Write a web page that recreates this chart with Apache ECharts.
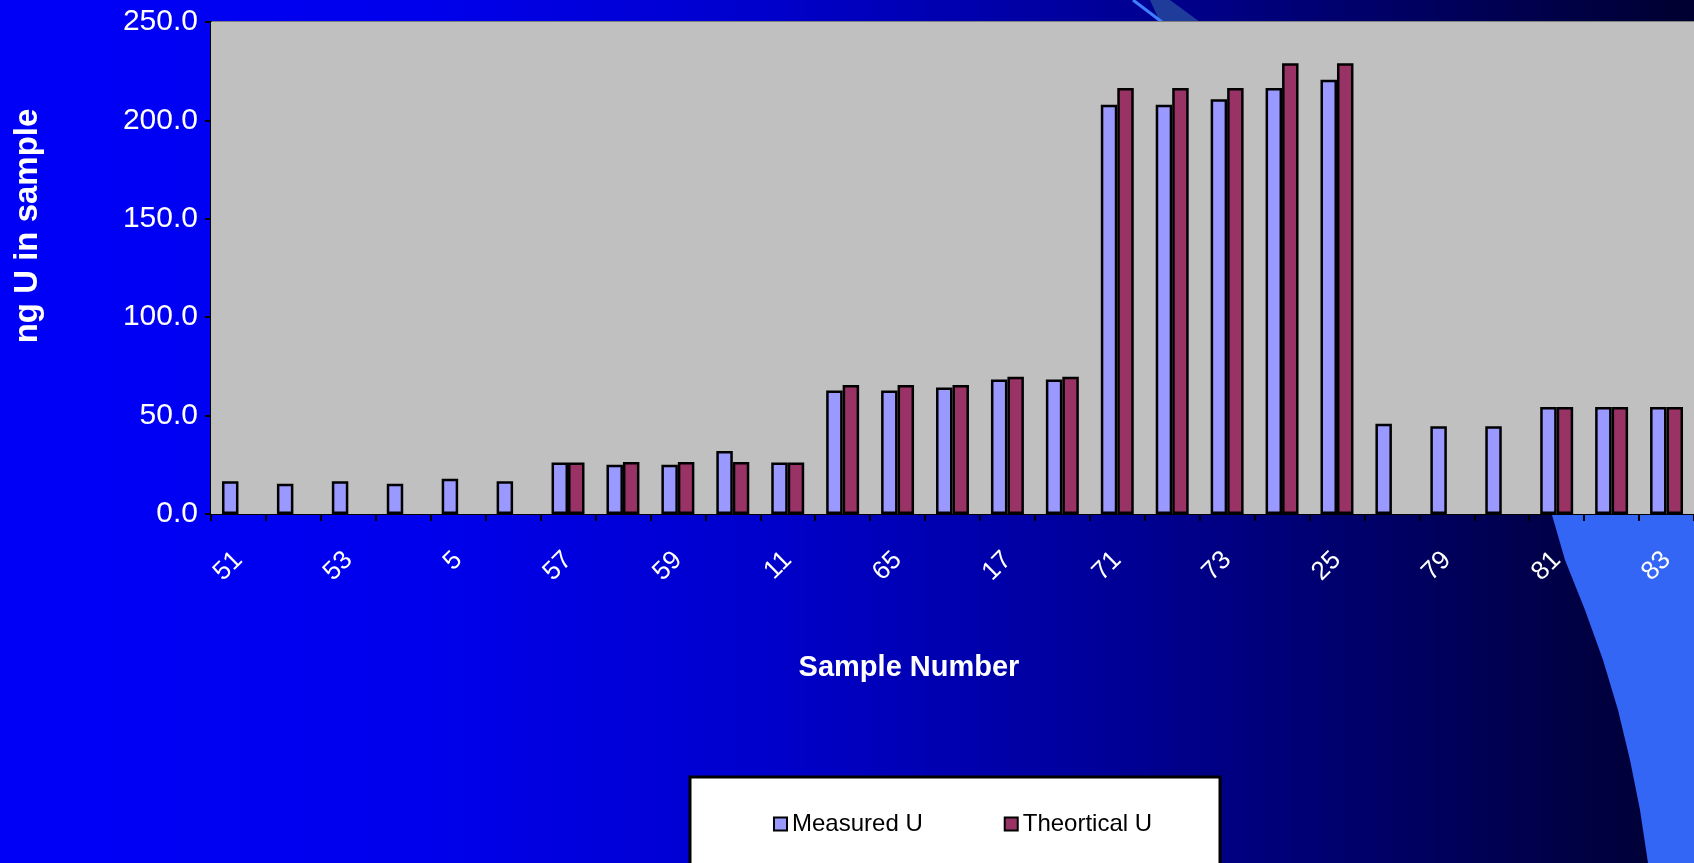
<!DOCTYPE html>
<html>
<head>
<meta charset="utf-8">
<title>ng U in sample</title>
<script src="https://cdn.jsdelivr.net/npm/echarts@6/dist/echarts.min.js"></script>
<style>
  html, body { margin: 0; padding: 0; overflow: hidden; }
  #chart { width: 1694px; height: 863px; }
</style>
</head>
<body>
<div id="chart"></div>
<script>
// sample numbers (only every other one is labelled on the axis)
const samples = ['51', '52', '53', '54', '5', '6', '57', '58', '59', '60', '11', '12', '65', '66',
  '17', '18', '71', '72', '73', '74', '25', '26', '79', '80', '81', '82', '83'];

// ng U measured in each sample
const measuredU = [16.6, 15.4, 16.6, 15.4, 17.9, 16.6, 26.2, 25.0, 25.0, 32.0, 26.2, 62.7, 62.7, 64.3,
  68.4, 68.4, 208.0, 208.0, 210.8, 216.4, 220.7, 45.9, 44.6, 44.6, 54.4, 54.4, 54.4];

// theoretical ng U (no value for some samples)
const theoreticalU = [null, null, null, null, null, null, 26.2, 26.4, 26.4, 26.4, 26.2, 65.5, 65.5, 65.5,
  69.7, 69.7, 216.4, 216.4, 216.4, 229.0, 229.0, null, null, null, 54.4, 54.4, 54.4];

const yTicks = { min: 0, max: 250, interval: 50 };

const chart = echarts.init(document.getElementById('chart'));

const option = {
  animation: false,
  grid: {
    left: 211, right: 0, top: 22, bottom: 349,
    show: true, backgroundColor: '#C0C0C0', borderWidth: 0, z: 1
  },
  graphic: [
    // slide background
    {
      type: 'rect', z: -10, silent: true,
      shape: { x: 0, y: 0, width: 1694, height: 863 },
      style: {
        fill: new echarts.graphic.LinearGradient(0, 0, 1, 0, [
          { offset: 0, color: '#0000F8' },
          { offset: 0.25, color: '#0000EC' },
          { offset: 0.45, color: '#0000CC' },
          { offset: 0.65, color: '#000099' },
          { offset: 0.85, color: '#00005C' },
          { offset: 1, color: '#000030' }
        ])
      }
    },
    // slide decoration, top
    {
      type: 'polygon', z: -9, silent: true,
      shape: { points: [[1150, 0], [1170, 0], [1200, 22], [1160, 22]] },
      style: { fill: '#203C9A' }
    },
    {
      type: 'line', z: -8, silent: true,
      shape: { x1: 1133, y1: 0, x2: 1162, y2: 22 },
      style: { stroke: '#3F7FFF', lineWidth: 3 }
    },
    // slide decoration, bottom right
    {
      type: 'polygon', z: -9, silent: true,
      shape: {
        points: [[1545, 500], [1552, 515], [1565, 560], [1585, 610], [1603, 660], [1618, 710],
          [1630, 760], [1640, 810], [1648, 863], [1694, 863], [1694, 500]]
      },
      style: { fill: '#3366F5' }
    },
    // legend box
    {
      type: 'rect', z: 3, silent: true,
      shape: { x: 690, y: 777, width: 530, height: 110 },
      style: { fill: '#FFFFFF', stroke: '#000000', lineWidth: 3 }
    },
    // axis titles
    {
      type: 'text', z: 5, x: 909, y: 668,
      style: {
        text: 'Sample Number', fill: '#FFFFFF', fontFamily: 'Liberation Sans, Arial',
        fontSize: 29, fontWeight: 'bold', align: 'center', verticalAlign: 'middle'
      }
    },
    {
      type: 'text', z: 5, x: 28, y: 226, rotation: Math.PI / 2,
      style: {
        text: 'ng U in sample', fill: '#FFFFFF', fontFamily: 'Liberation Sans, Arial',
        fontSize: 33, fontWeight: 'bold', align: 'center', verticalAlign: 'middle'
      }
    }
  ],
  legend: {
    z: 10,
    left: 773, top: 812,
    padding: 0,
    itemGap: 81,
    itemWidth: 13, itemHeight: 13,
    icon: 'rect',
    textStyle: { color: '#000', fontSize: 24, fontFamily: 'Liberation Sans, Arial' },
    data: ['Measured U', 'Theortical U']
  },
  xAxis: {
    type: 'category',
    data: samples,
    boundaryGap: true,
    axisLine: { lineStyle: { color: '#000', width: 2 } },
    axisTick: { show: true, interval: 0, length: 7, lineStyle: { color: '#000', width: 2 } },
    axisLabel: {
      interval: 1, rotate: 45, margin: 42,
      color: '#FFFFFF', fontSize: 26, fontFamily: 'Liberation Sans, Arial'
    },
    splitLine: { show: false }
  },
  yAxis: {
    type: 'value',
    min: yTicks.min, max: yTicks.max, interval: yTicks.interval,
    axisLine: { show: true, lineStyle: { color: '#000', width: 2 } },
    axisTick: { show: true, length: 6, lineStyle: { color: '#000', width: 2 } },
    axisLabel: {
      margin: 13, color: '#FFFFFF', fontSize: 30, fontFamily: 'Liberation Sans, Arial',
      formatter: v => v.toFixed(1)
    },
    splitLine: {
      show: true,
      lineStyle: { color: ['#000', '#000', '#000', '#000', '#000', '#808080'], width: 2 }
    }
  },
  series: [
    {
      name: 'Measured U',
      type: 'bar',
      data: measuredU,
      barGap: '0%',
      barCategoryGap: '40%',
      itemStyle: { color: '#9999FF', borderColor: '#000', borderWidth: 2.5 }
    },
    {
      name: 'Theortical U',
      type: 'bar',
      data: theoreticalU,
      barGap: '0%',
      barCategoryGap: '40%',
      itemStyle: { color: '#993366', borderColor: '#000', borderWidth: 2.5 }
    }
  ]
};

chart.setOption(option);
</script>
</body>
</html>
